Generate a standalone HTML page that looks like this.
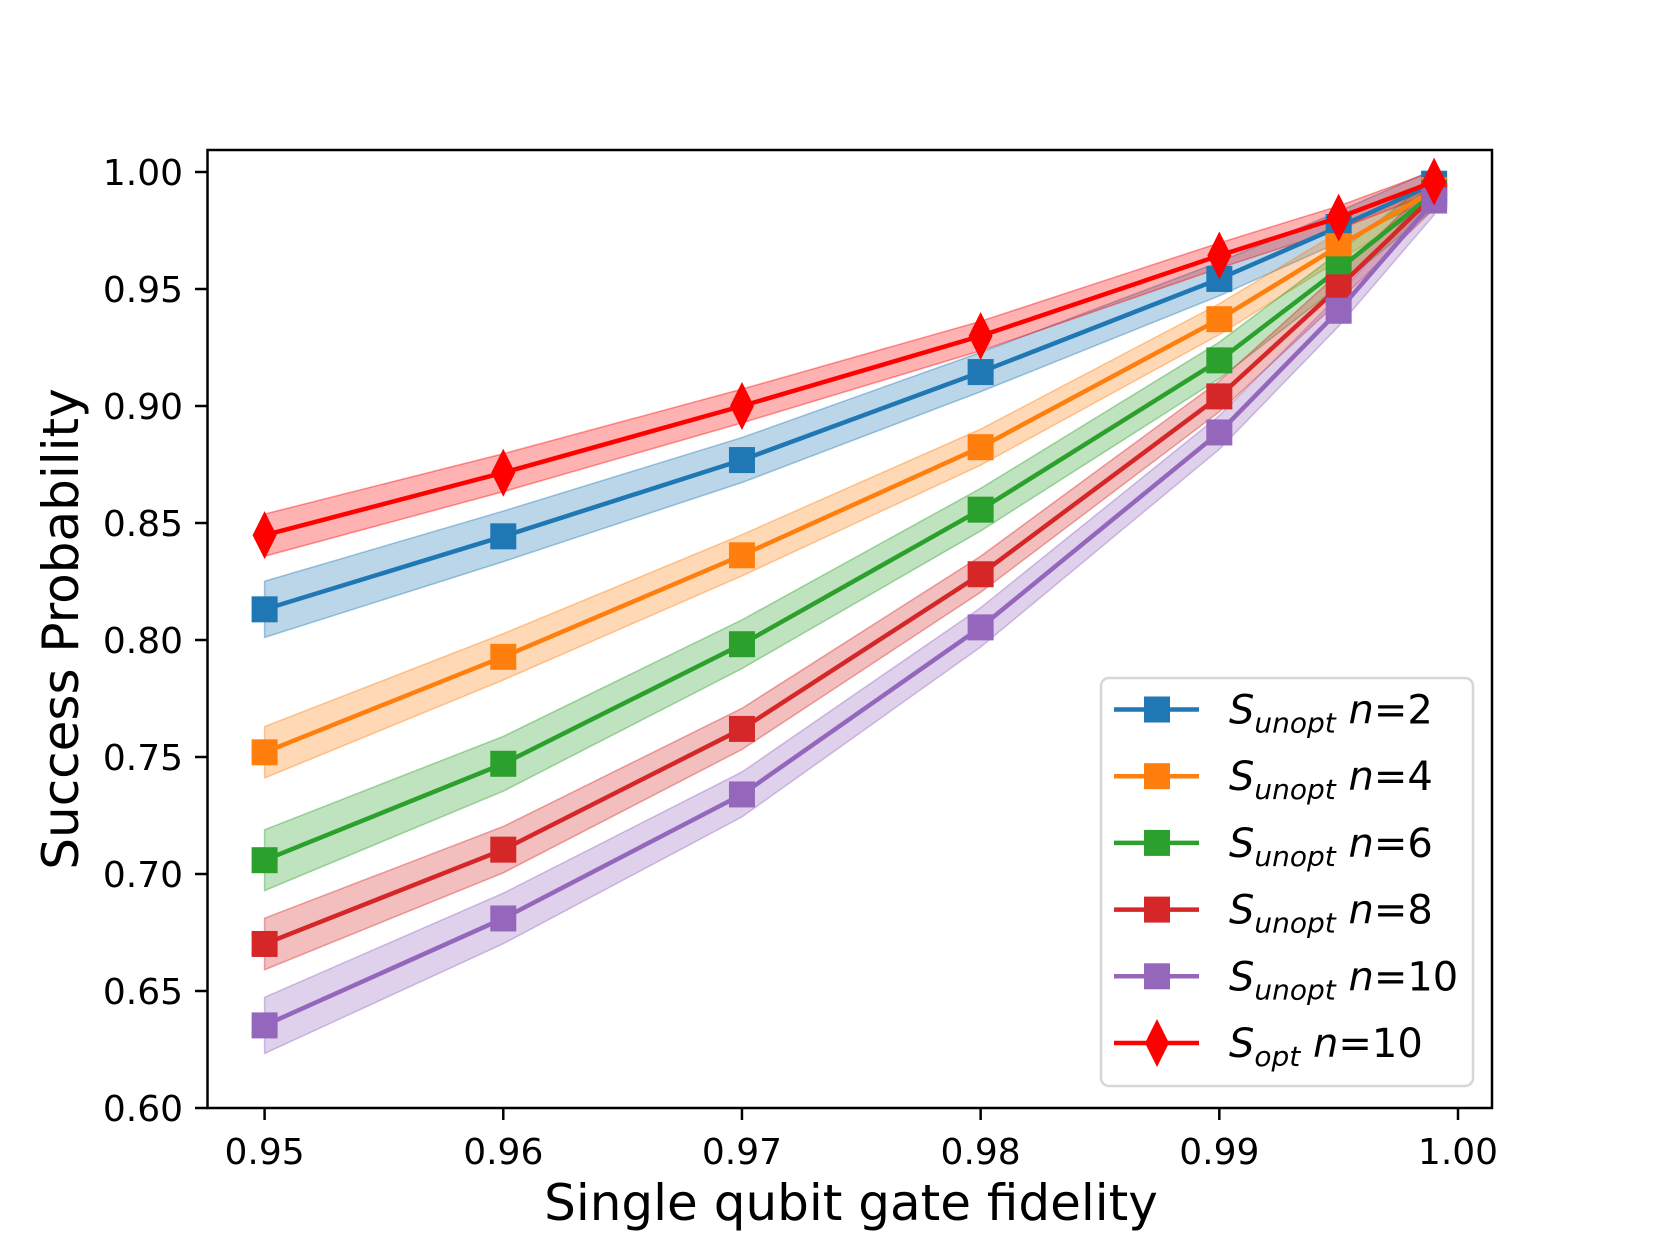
<!DOCTYPE html>
<html><head><meta charset="utf-8"><style>
html,body{margin:0;padding:0;background:#fff;}
svg text{font-family:"DejaVu Sans","Liberation Sans",sans-serif;}
</style></head><body>
<svg id="s" width="1660" height="1245" xmlns="http://www.w3.org/2000/svg">
<rect width="1660" height="1245" fill="#fff"/>
<g id="plot"></g>
<rect x="207.5" y="150" width="1284.5" height="958" fill="none" stroke="#000" stroke-width="2.5"/>
<g id="ticks" font-size="36" fill="#000"></g>
<text x="851" y="1220" font-size="50" text-anchor="middle">Single qubit gate fidelity</text>
<text transform="translate(78,629) rotate(-90)" font-size="50" text-anchor="middle">Success Probability</text>
<g id="leg"></g>
</svg>
<script>
const X=x=>264.6+(x-0.95)*23868, Y=v=>172+(1-v)*2340;
const xs=[0.95,0.96,0.97,0.98,0.99,0.995,0.999];
const S=[
 ['#1f77b4',[0.8131,0.8443,0.8769,0.9145,0.9543,0.9765,0.995],0.012,'sq'],
 ['#ff7f0e',[0.752,0.7928,0.8362,0.8824,0.9371,0.9683,0.9923],0.011,'sq'],
 ['#2ca02c',[0.7059,0.7471,0.7982,0.8557,0.9195,0.9584,0.991],0.013,'sq'],
 ['#d62728',[0.6701,0.7104,0.762,0.8281,0.9041,0.9507,0.99],0.011,'sq'],
 ['#9467bd',[0.6353,0.681,0.734,0.8054,0.8887,0.9407,0.9878],0.012,'sq'],
 ['#ff0000',[0.8448,0.8715,0.9,0.9299,0.9643,0.9805,0.9959],0.009,'di']];
let h='';
S.forEach(([c,v,w])=>{
 const hw=xs.map(x=>Math.max(0.002,w*(0.5+0.5*(1-x)/0.05)));
 let up=xs.map((x,i)=>X(x)+','+Y(v[i]+hw[i])), dn=xs.map((x,i)=>X(x)+','+Y(v[i]-hw[i])).reverse();
 h+=`<polygon points="${up.concat(dn).join(' ')}" fill="${c}" fill-opacity="0.3" stroke="${c}" stroke-opacity="0.4" stroke-width="1.5"/>`;
});
function mk(c,t,x,y){return t=='sq'?`<rect x="${x-13}" y="${y-13}" width="26" height="26" fill="${c}"/>`:`<polygon points="${x},${y-24} ${x+12},${y} ${x},${y+24} ${x-12},${y}" fill="${c}"/>`;}
S.forEach(([c,v,w,t])=>{
 h+=`<polyline points="${xs.map((x,i)=>X(x)+','+Y(v[i])).join(' ')}" fill="none" stroke="${c}" stroke-width="4.5"/>`;
 xs.forEach((x,i)=>h+=mk(c,t,X(x),Y(v[i])));
});
document.getElementById('plot').innerHTML=h;
let t='';
[0.95,0.96,0.97,0.98,0.99,1.0].forEach(x=>{const px=X(x);t+=`<line x1="${px}" y1="1108" x2="${px}" y2="1120" stroke="#000" stroke-width="2.5"/><text x="${px}" y="1164" text-anchor="middle">${x.toFixed(2)}</text>`;});
for(let k=0;k<=8;k++){const v=0.6+k*0.05,py=Y(v);t+=`<line x1="195" y1="${py}" x2="207.5" y2="${py}" stroke="#000" stroke-width="2.5"/><text x="183" y="${py+13}" text-anchor="end">${v.toFixed(2)}</text>`;}
document.getElementById('ticks').innerHTML=t;
let l=`<rect x="1101" y="678" width="372" height="408" rx="8" fill="#fff" fill-opacity="0.8" stroke="#d6d6d6" stroke-width="2.5"/>`;
const labs=['2','4','6','8','10','10'];
S.forEach(([c,v,w,tp],i)=>{const y=709.5+i*66.7;
 l+=`<line x1="1114" y1="${y}" x2="1199" y2="${y}" stroke="${c}" stroke-width="4.5"/>`+mk(c,tp,1157,y);
 l+=`<text x="1229" y="${y+14}" font-size="40"><tspan font-style="italic">S</tspan><tspan font-style="italic" font-size="28" dy="9">${i<5?'unopt':'opt'}</tspan><tspan dy="-9" font-style="italic"> n</tspan><tspan>=${labs[i]}</tspan></text>`;});
document.getElementById('leg').innerHTML=l;
</script>
</body></html>
